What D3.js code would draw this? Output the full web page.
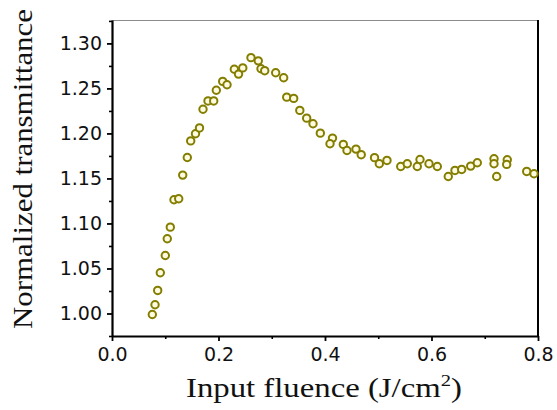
<!DOCTYPE html>
<html>
<head>
<meta charset="utf-8">
<script src="https://cdn.jsdelivr.net/npm/d3@7"></script>
<style>
  html, body { margin: 0; padding: 0; background: #fff; }
  svg { display: block; }
</style>
</head>
<body>
<svg id="chart" width="557" height="410"></svg>
<script>
// Data
const fluence = [0.0757,0.0808,0.0858,0.0907,0.1001,0.1038,0.1095,0.1164,0.1253,0.1328,
  0.1414,0.1478,0.1568,0.1643,0.1709,0.1803,0.1910,0.1959,0.2079,0.2160,
  0.2297,0.2376,0.2456,0.2610,0.2747,0.2798,0.2868,0.3074,0.3224,0.3281,
  0.3412,0.3527,0.3656,0.3775,0.3912,0.4141,0.4094,0.4344,0.4413,0.4582,
  0.4680,0.4930,0.5020,0.5164,0.5422,0.5545,0.5733,0.5784,0.5953,0.6109,
  0.6315,0.6441,0.6567,0.6736,0.6860,0.7174,0.7174,0.7224,0.7423,0.7412,
  0.7788,0.7925];
const transmittance = [0.9989,1.0097,1.0256,1.0452,1.0644,1.0830,1.0959,1.1263,1.1274,1.1537,
  1.1733,1.1917,1.1997,1.2061,1.2269,1.2361,1.2361,1.2480,1.2578,1.2541,
  1.2713,1.2659,1.2728,1.2842,1.2806,1.2719,1.2697,1.2674,1.2619,1.2403,
  1.2389,1.2256,1.2170,1.2108,1.2003,1.1948,1.1886,1.1878,1.1811,1.1826,
  1.1764,1.1731,1.1663,1.1700,1.1633,1.1663,1.1633,1.1711,1.1663,1.1633,
  1.1522,1.1589,1.1600,1.1637,1.1674,1.1719,1.1663,1.1522,1.1708,1.1656,
  1.1578,1.1552];
const xTicks = [0.0, 0.2, 0.4, 0.6, 0.8];
const xMinorTicks = [0.1, 0.3, 0.5, 0.7];
const yTicks = [1.00, 1.05, 1.10, 1.15, 1.20, 1.25, 1.30];
const yMinorTicks = [0.975, 1.025, 1.075, 1.125, 1.175, 1.225, 1.275, 1.325];
const xTitle = "Input fluence (J/cm";
const xTitleSup = "2";
const yTitle = "Normalized transmittance";

const L = 112, R = 538, T = 20, B = 336;
const svg = d3.select("#chart");
const x = d3.scaleLinear().domain([0, 0.8]).range([L, R]);
const y = d3.scaleLinear().domain([0.975, 1.326]).range([B, T]);

// frame: top (thin grey) and right (black)
svg.append("line").attr("x1", L).attr("x2", R).attr("y1", T + 0.5).attr("y2", T + 0.5)
  .attr("stroke", "#8c8c8c").attr("stroke-width", 1);
svg.append("line").attr("x1", R).attr("x2", R).attr("y1", T).attr("y2", B)
  .attr("stroke", "#000").attr("stroke-width", 2);

// minor ticks
const yMinor = svg.append("g").attr("transform", `translate(${L},0)`)
  .call(d3.axisLeft(y).tickValues(yMinorTicks).tickSize(3).tickFormat(""));
yMinor.select(".domain").remove();
yMinor.selectAll("line").attr("stroke-width", 1.6);
const xMinor = svg.append("g").attr("transform", `translate(0,${B})`)
  .call(d3.axisBottom(x).tickValues(xMinorTicks).tickSize(3).tickFormat(""));
xMinor.select(".domain").remove();
xMinor.selectAll("line").attr("stroke-width", 1.6);

// major axes
const yAxis = svg.append("g").attr("transform", `translate(${L},0)`)
  .call(d3.axisLeft(y).tickValues(yTicks).tickSize(5).tickSizeOuter(0).tickPadding(5)
    .tickFormat(d3.format(".2f")));
yAxis.select(".domain").attr("stroke-width", 2.2);
yAxis.selectAll(".tick line").attr("stroke-width", 1.8);
yAxis.selectAll("text").attr("font-family", "'DejaVu Sans', sans-serif")
  .attr("font-size", 19).attr("fill", "#111");

const xAxis = svg.append("g").attr("transform", `translate(0,${B})`)
  .call(d3.axisBottom(x).tickValues(xTicks).tickSize(5).tickSizeOuter(0).tickPadding(7)
    .tickFormat(d3.format(".1f")));
xAxis.select(".domain").attr("stroke-width", 2.2);
xAxis.selectAll(".tick line").attr("stroke-width", 1.8);
xAxis.selectAll("text").attr("font-family", "'DejaVu Sans', sans-serif")
  .attr("font-size", 19).attr("fill", "#111");

// titles
const xt = svg.append("text")
  .attr("x", 324).attr("y", 397)
  .attr("text-anchor", "middle")
  .attr("font-family", "'Liberation Serif', 'Times New Roman', serif")
  .attr("font-size", 27).attr("fill", "#111")
  .attr("textLength", 276).attr("lengthAdjust", "spacingAndGlyphs");
xt.append("tspan").text(xTitle);
xt.append("tspan").attr("font-size", 17).attr("dy", -11).text(xTitleSup);
xt.append("tspan").attr("dy", 11).text(")");

svg.append("text")
  .attr("transform", "translate(32,169) rotate(-90)")
  .attr("text-anchor", "middle")
  .attr("font-family", "'Liberation Serif', 'Times New Roman', serif")
  .attr("font-size", 28).attr("fill", "#111")
  .attr("textLength", 320).attr("lengthAdjust", "spacingAndGlyphs")
  .text(yTitle);

// data points
const pts = fluence.map((f, i) => ({ f, t: transmittance[i] }));
svg.append("g").selectAll("circle").data(pts).join("circle")
  .attr("cx", d => x(d.f)).attr("cy", d => y(d.t)).attr("r", 3.7)
  .attr("fill", "#fffbe0").attr("stroke", "#837d00").attr("stroke-width", 2);
</script>
</body>
</html>
